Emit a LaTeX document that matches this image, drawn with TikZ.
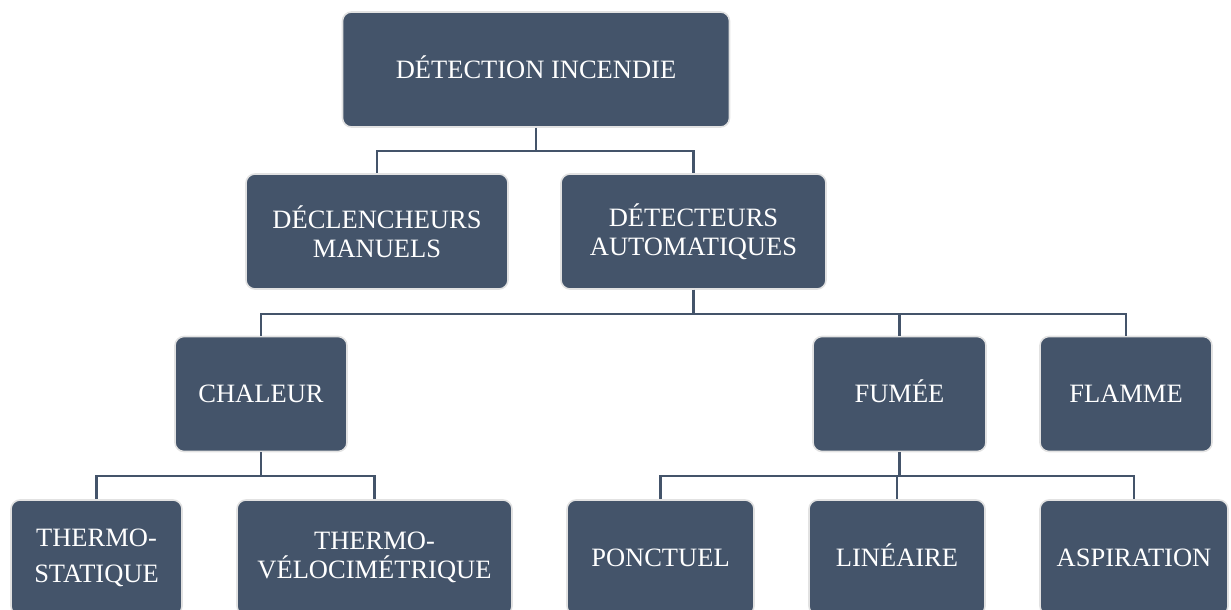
\documentclass[tikz,border=0pt]{standalone}
\usepackage{fontspec}
\setmainfont{Liberation Serif}
\usepackage{tikz}
\usetikzlibrary{positioning}

\definecolor{slate}{HTML}{44546A}
\definecolor{rim}{HTML}{E2E2E2}

\begin{document}
\begin{tikzpicture}[x=1pt,y=-1pt,
  box/.style={draw=rim,line width=1.6pt,fill=slate,rounded corners=9pt,
    text=white,align=center,inner sep=0pt,minimum height=115pt,
    font=\fontsize{26.5}{29}\selectfont},
  flat/.style={box,text height=17.5pt,text depth=0pt},
  link/.style={draw=slate,line width=2.2pt}]
\useasboundingbox (0,0) rectangle (1231,610);
% level 0 and 1
\node[flat,minimum width=387pt] (det) at (536,69.5) {DÉTECTION INCENDIE};
\node[box,minimum width=262pt] (man) at (377,231.5) {DÉCLENCHEURS\\MANUELS};
\node[box,minimum width=265pt] (auto) at (693.5,231.5) {DÉTECTEURS\\AUTOMATIQUES};
% level 2
\node[flat,minimum width=172pt] (chal) at (261,394) {CHALEUR};
\node[flat,minimum width=173pt] (fum) at (899.5,394) {FUMÉE};
\node[flat,minimum width=172pt] (flam) at (1126,394) {FLAMME};
% level 3
\node[box,minimum width=171pt,font=\fontsize{26.5}{36}\selectfont] (stat) at (96.5,557.5) {THERMO-\\STATIQUE};
\node[box,minimum width=275pt] (velo) at (374.5,557.5) {THERMO-\\VÉLOCIMÉTRIQUE};
\node[flat,minimum width=187pt] (ponc) at (660.5,557.5) {PONCTUEL};
\node[flat,minimum width=176pt] (lin) at (897,557.5) {LINÉAIRE};
\node[flat,minimum width=188pt] (asp) at (1134,557.5) {ASPIRATION};
% connectors
\draw[link] (det.south) -- ++(0,23) -| (man.north);
\draw[link] (det.south) -- ++(0,23) -| (auto.north);
\draw[link] (auto.south) -- ++(0,24) -| (chal.north);
\draw[link] (auto.south) -- ++(0,24) -| (fum.north);
\draw[link] (auto.south) -- ++(0,24) -| (flam.north);
\draw[link] (chal.south) -- ++(0,24) -| (stat.north);
\draw[link] (chal.south) -- ++(0,24) -| (velo.north);
\draw[link] (fum.south) -- ++(0,24) -| (ponc.north);
\draw[link] (fum.south) -- ++(0,24) -| (lin.north);
\draw[link] (fum.south) -- ++(0,24) -| (asp.north);
\end{tikzpicture}
\end{document}
